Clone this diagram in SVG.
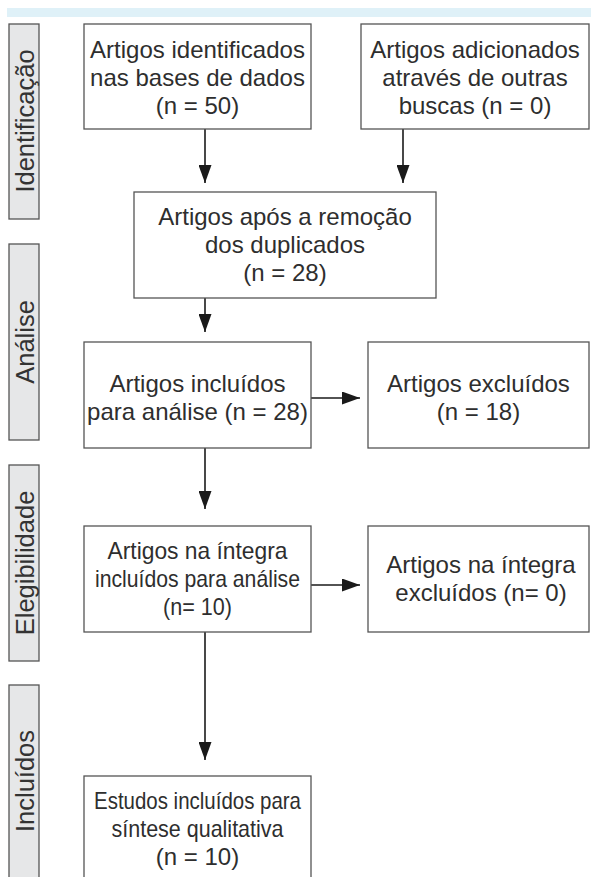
<svg xmlns="http://www.w3.org/2000/svg" width="591" height="877" viewBox="0 0 591 877">
<defs>
<style>
.box{fill:#fff;stroke:#555;stroke-width:1.3}
.side{fill:#e6e7e8;stroke:#555;stroke-width:1.3}
.t{font-family:"Liberation Sans",Arial,sans-serif;font-size:24px;fill:#2e2e2e;text-anchor:middle}
.st{font-family:"Liberation Sans",Arial,sans-serif;font-size:25.5px;fill:#333;text-anchor:middle}
.c{stroke:#1a1a1a;stroke-width:1.6;fill:none}
</style>
<marker id="ah" viewBox="0 0 18 13" refX="18" refY="6.5" markerWidth="18" markerHeight="13" markerUnits="userSpaceOnUse" orient="auto">
<path d="M0,0 L18,6.5 L0,13 Z" fill="#1a1a1a"/>
</marker>
</defs>
<rect x="7" y="8" width="584" height="9" fill="#dff1f8"/>

<g id="side-identificacao"><rect class="side" x="9" y="24" width="30" height="195"/><text class="st" transform="translate(33.5,121) rotate(-90)">Identificação</text></g>
<g id="side-analise"><rect class="side" x="9" y="244" width="30" height="196"/><text class="st" transform="translate(33.5,342) rotate(-90)">Análise</text></g>
<g id="side-elegibilidade"><rect class="side" x="9" y="465" width="30" height="196"/><text class="st" transform="translate(33.5,563) rotate(-90)">Elegibilidade</text></g>
<g id="side-incluidos"><rect class="side" x="9" y="685" width="30" height="200"/><text class="st" transform="translate(33.5,781) rotate(-90)">Incluídos</text></g>

<g id="connectors">
<line class="c" x1="205" y1="129" x2="205" y2="183" marker-end="url(#ah)"/>
<line class="c" x1="403" y1="129" x2="403" y2="183" marker-end="url(#ah)"/>
<line class="c" x1="205" y1="298" x2="205" y2="332" marker-end="url(#ah)"/>
<line class="c" x1="311" y1="398" x2="360" y2="398" marker-end="url(#ah)"/>
<line class="c" x1="205" y1="448" x2="205" y2="509" marker-end="url(#ah)"/>
<line class="c" x1="311" y1="585" x2="360" y2="585" marker-end="url(#ah)"/>
<line class="c" x1="205" y1="632" x2="205" y2="760" marker-end="url(#ah)"/>
</g>

<g id="n1"><rect class="box" x="84" y="24" width="227" height="105"/>
<text class="t" x="197.5" y="58">Artigos identificados</text>
<text class="t" x="197.5" y="86">nas bases de dados</text>
<text class="t" x="197.5" y="114">(n = 50)</text></g>

<g id="n2"><rect class="box" x="361" y="24" width="228" height="105"/>
<text class="t" x="475" y="58">Artigos adicionados</text>
<text class="t" x="475" y="86">através de outras</text>
<text class="t" x="475" y="114">buscas (n = 0)</text></g>

<g id="n3"><rect class="box" x="134" y="192" width="302" height="106"/>
<text class="t" x="285" y="225">Artigos após a remoção</text>
<text class="t" x="285" y="253">dos duplicados</text>
<text class="t" x="285" y="281">(n = 28)</text></g>

<g id="n4"><rect class="box" x="84" y="342" width="227" height="106"/>
<text class="t" x="197.5" y="392">Artigos incluídos</text>
<text class="t" x="197.5" y="420">para análise (n = 28)</text></g>

<g id="n5"><rect class="box" x="368" y="342" width="221" height="106"/>
<text class="t" x="478.5" y="392">Artigos excluídos</text>
<text class="t" x="478.5" y="420">(n = 18)</text></g>

<g id="n6"><rect class="box" x="84" y="526" width="227" height="106"/>
<text class="t" x="197.5" y="559" textLength="180" lengthAdjust="spacingAndGlyphs">Artigos na íntegra</text>
<text class="t" x="197.5" y="587" textLength="205" lengthAdjust="spacingAndGlyphs">incluídos para análise</text>
<text class="t" x="197.5" y="615" textLength="69" lengthAdjust="spacingAndGlyphs">(n= 10)</text></g>

<g id="n7"><rect class="box" x="368" y="526" width="221" height="106"/>
<text class="t" x="481" y="573">Artigos na íntegra</text>
<text class="t" x="481" y="601">excluídos (n= 0)</text></g>

<g id="n8"><rect class="box" x="84" y="776" width="227" height="110"/>
<text class="t" x="197.5" y="809" textLength="207" lengthAdjust="spacingAndGlyphs">Estudos incluídos para</text>
<text class="t" x="197.5" y="837" textLength="172" lengthAdjust="spacingAndGlyphs">síntese qualitativa</text>
<text class="t" x="197.5" y="865">(n = 10)</text></g>
</svg>
